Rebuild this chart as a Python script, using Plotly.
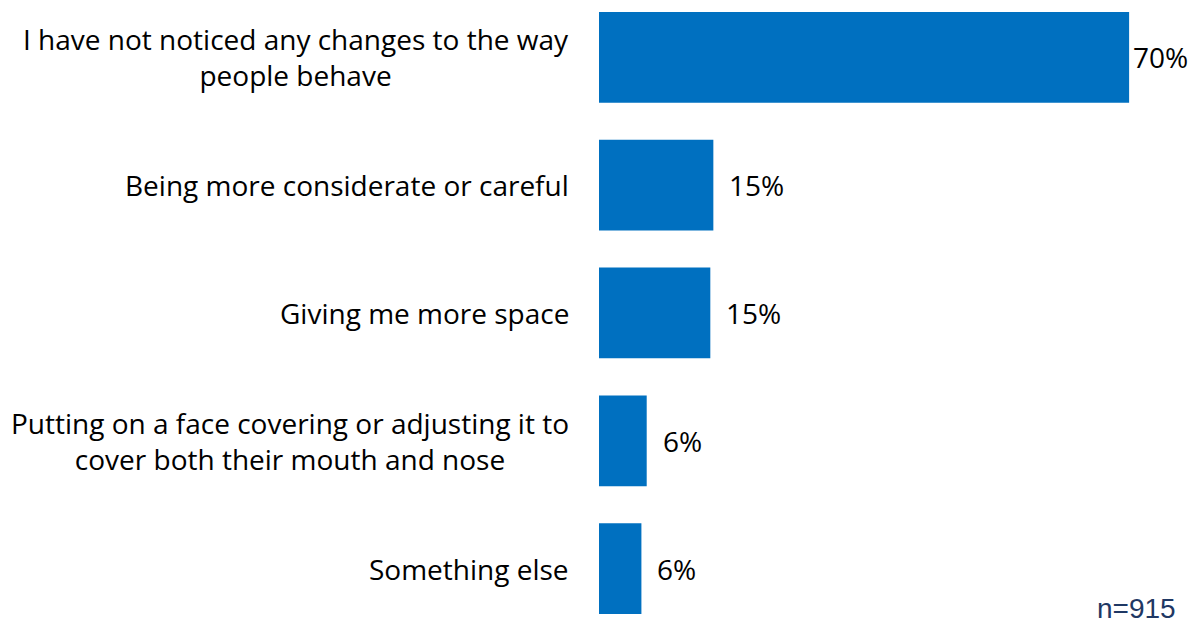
import plotly.graph_objects as go

categories = [
    "I have not noticed any changes to the way<br>people behave",
    "Being more considerate or careful",
    "Giving me more space",
    "Putting on a face covering or adjusting it to<br>cover both their mouth and nose",
    "Something else",
]
values = [70.0, 15.1, 14.7, 6.3, 5.6]
sample_note = "n=915"

BAR_COLOR = "#0070C0"
FONT = "Open Sans"

fig = go.Figure(
    go.Bar(
        x=values,
        y=list(range(len(categories))),
        orientation="h",
        marker=dict(color=BAR_COLOR, line=dict(width=0)),
        width=0.71,
        hoverinfo="skip",
    )
)

# category labels to the left of the bars, lines centred within each block
for i, label in enumerate(categories):
    fig.add_annotation(
        x=0, y=i, xref="x", yref="y",
        text=label, showarrow=False,
        xanchor="right", yanchor="middle", align="center",
        xshift=-28,
        font=dict(family=FONT, size=28, color="#000000"),
    )

# value labels just past the end of each bar
for i, v in enumerate(values):
    fig.add_annotation(
        x=v, y=i, xref="x", yref="y",
        text=f"{v:.0f}%", showarrow=False,
        xanchor="left", yanchor="middle",
        xshift=2 if v > 50 else 14,
        font=dict(family=FONT, size=28, color="#000000"),
    )

fig.add_annotation(
    x=1, y=0, xref="paper", yref="paper",
    text=sample_note, showarrow=False,
    xanchor="right", yanchor="bottom",
    xshift=-17, yshift=-3,
    font=dict(family="Liberation Sans", size=28, color="#1F3864"),
)

fig.update_xaxes(range=[0, 78.7], visible=False, fixedrange=True)
fig.update_yaxes(range=[4.426, -0.449], visible=False, fixedrange=True)

fig.update_layout(
    width=1195, height=623,
    margin=dict(l=599, r=0, t=0, b=0),
    paper_bgcolor="white", plot_bgcolor="white",
    showlegend=False,
)

fig.write_html("out.html")
